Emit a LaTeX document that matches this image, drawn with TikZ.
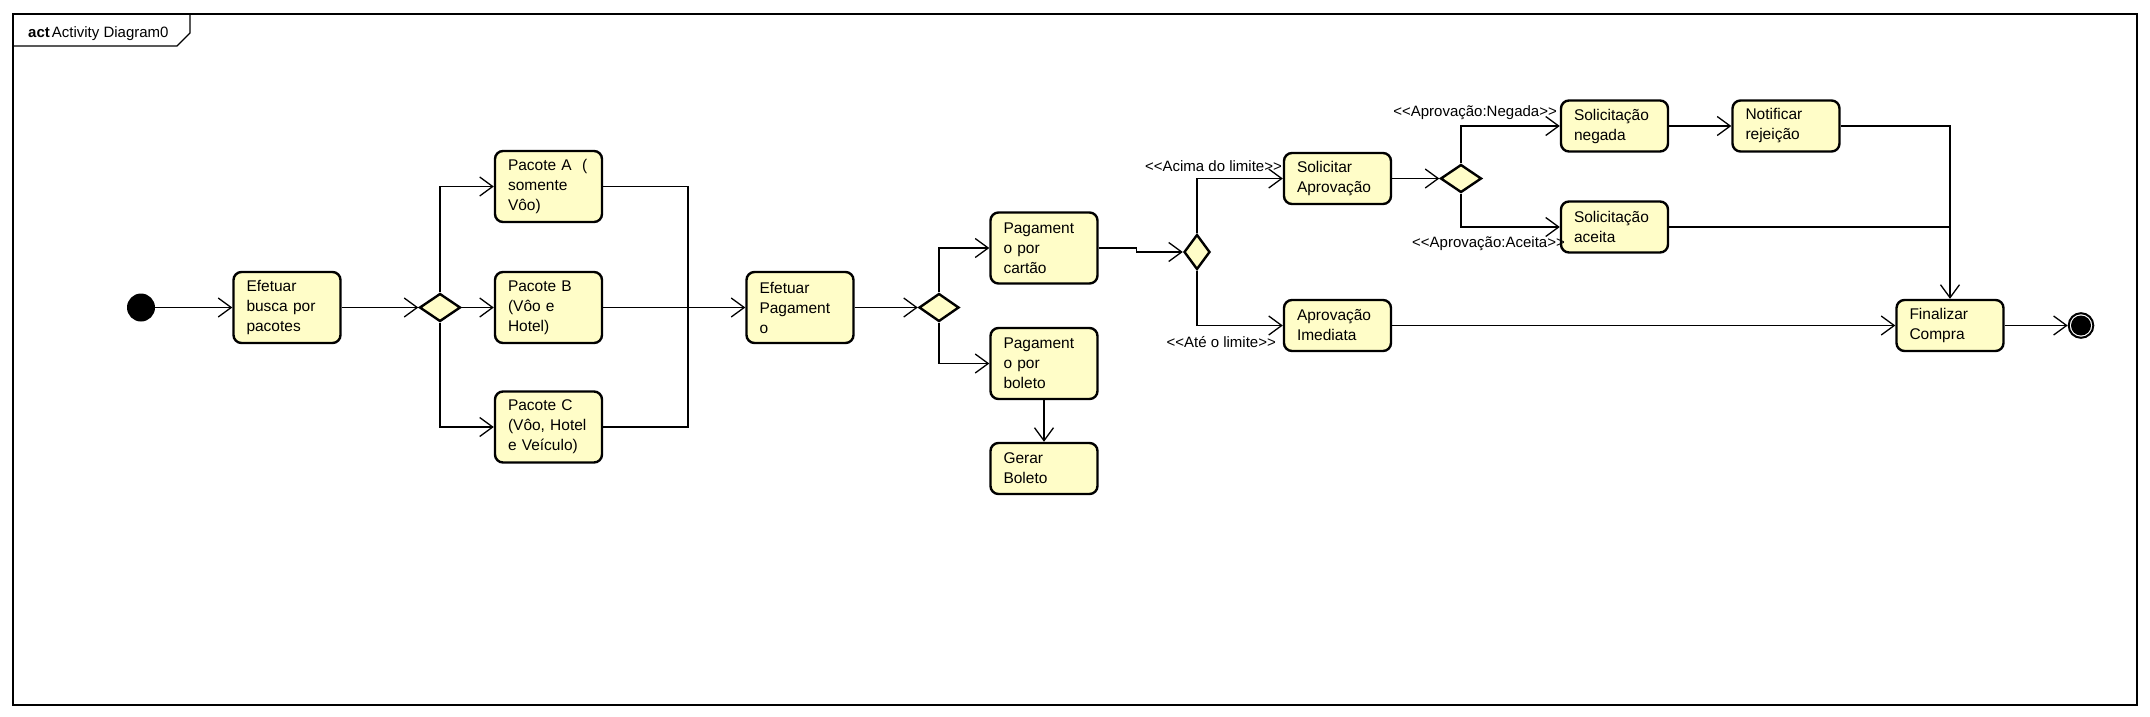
\documentclass[tikz,border=0pt]{standalone}
\usepackage{fontspec}
\setmainfont{Liberation Sans}
\usetikzlibrary{arrows.meta,shapes.geometric}
\definecolor{actfill}{RGB}{255,253,200}
\newcommand\ltlt{<\kern0pt<}
\newcommand\gtgt{>\kern0pt>}
\begin{document}
\begin{tikzpicture}[x=1pt,y=-1pt,
  actbox/.style={draw, line width=2.4pt, rounded corners=8pt, fill=actfill, text width=81pt, inner xsep=13pt, inner ysep=0pt, minimum height=#1, align=left, font=\fontsize{15.5}{20}\selectfont},
  actbox/.default=71,
  decnode/.style 2 args={diamond, draw, line width=2.4pt, fill=actfill, inner sep=0pt, minimum width=#1, minimum height=#2},
  flowarrow/.style={line width=1.3pt, -{Straight Barb[length=13pt,width=19pt]}},
  conn/.style={line width=1.3pt},
  lbl/.style={font=\fontsize{15}{18}\selectfont, inner sep=0pt},
  initnode/.style={circle, fill=black, minimum size=28pt, inner sep=0pt},
  endnode/.style={circle, draw, line width=2pt, fill=white, minimum size=24.6pt, inner sep=0pt, path picture={\fill[black] (path picture bounding box.center) circle (10pt);}},
]
\useasboundingbox (0,0) rectangle (2150,716);
\fill[white] (0,0) rectangle (2150,716);
% frame
\draw[line width=1.2pt] (13,14) rectangle (2137,705);
\draw[line width=1.2pt] (13,46) -- (177,46) -- (190,33) -- (190,14);
\node[anchor=base west, inner sep=0pt, font=\fontsize{15}{18}\selectfont] (title) at (28,37) {\textbf{act}\hspace{2pt}Activity Diagram0};

% nodes
\node[initnode] (ini) at (141,307.5) {};
\node[actbox] (busca) at (287,307.5) {Efetuar\\busca por\\pacotes};
\node[decnode={41}{28}] (d1) at (440,307.5) {};
\node[actbox] (pa) at (548.5,186.5) {Pacote A\ \ (\\somente\\Vôo)};
\node[actbox] (pb) at (548.5,307.5) {Pacote B\\(Vôo e\\Hotel)};
\node[actbox] (pc) at (548.5,427) {Pacote C\\(Vôo, Hotel\\e Veículo)};
\coordinate (m1) at (688,307.5);
\node[actbox] (ep) at (800,307.5) {Efetuar\\Pagament\\o};
\node[decnode={40}{28}] (d2) at (939,307.5) {};
\node[actbox] (cart) at (1044,248) {Pagament\\o por\\cartão};
\node[actbox] (bol) at (1044,363.5) {Pagament\\o por\\boleto};
\node[actbox=51] (ger) at (1044,468.5) {Gerar\\Boleto};
\node[decnode={26}{35}] (d3) at (1197,252) {};
\node[actbox=51] (sol) at (1337.5,178.5) {Solicitar\\Aprovação};
\node[actbox=51] (imed) at (1337.5,325.5) {Aprovação\\Imediata};
\node[decnode={41}{28}] (d4) at (1461,178.5) {};
\node[actbox=51] (neg) at (1614.5,126) {Solicitação\\negada};
\node[actbox=51] (ace) at (1614.5,227) {Solicitação\\aceita};
\node[actbox=51] (notif) at (1786,126) {Notificar\\rejeição};
\node[actbox=51] (fin) at (1950,325.5) {Finalizar\\Compra};
\node[endnode] (end) at (2081,325.5) {};

% labels
\node[lbl, anchor=east] (la) at (1282,166) {\ltlt Acima do limite\gtgt};
\node[lbl, anchor=east] (lb) at (1276,342) {\ltlt Até o limite\gtgt};
\node[lbl, anchor=east] (lc) at (1557,113) {\ltlt Aprovação:Negada\gtgt};
\node[lbl, anchor=east] (ld) at (1565,244) {\ltlt Aprovação:Aceita\gtgt};

% connectors
\draw[flowarrow] (ini) -- (busca);
\draw[flowarrow] (busca) -- (d1);
\draw[flowarrow] (d1) -- (pb);
\draw[flowarrow] (d1.north) |- (pa);
\draw[flowarrow] (d1.south) |- (pc);
\draw[conn] (pa) -| (m1);
\draw[conn] (pc) -| (m1);
\draw[flowarrow] (pb) -- (ep);
\draw[flowarrow] (ep) -- (d2);
\draw[flowarrow] (d2.north) |- (cart);
\draw[flowarrow] (d2.south) |- (bol);
\draw[flowarrow] (bol) -- (ger);
\draw[flowarrow] (cart.east) -- ++(38,0) |- (d3.west);
\draw[flowarrow] (d3.north) |- (sol);
\draw[flowarrow] (d3.south) |- (imed);
\draw[flowarrow] (sol) -- (d4);
\draw[flowarrow] (d4.north) |- (neg);
\draw[flowarrow] (d4.south) |- (ace);
\draw[flowarrow] (neg) -- (notif);
\draw[flowarrow] (notif) -| (fin);
\draw[conn] (ace) -- (ace -| fin);
\draw[flowarrow] (imed) -- (fin);
\draw[flowarrow] (fin) -- (end);
\end{tikzpicture}
\end{document}
